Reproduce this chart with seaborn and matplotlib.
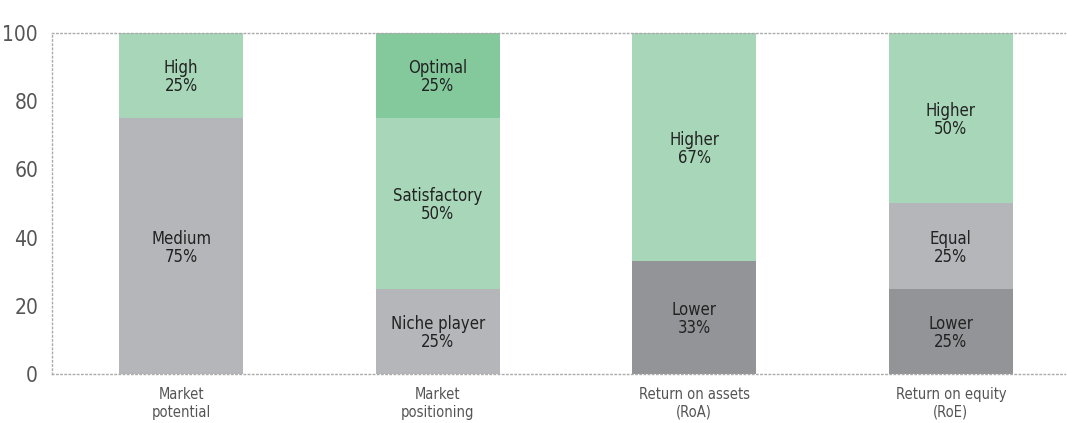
import pandas as pd
import numpy as np
import matplotlib
matplotlib.use('Agg')
import matplotlib.pyplot as plt
import seaborn as sns

# Data (percent shares, stacked bottom to top)
categories = ["Market\npotential", "Market\npositioning", "Return on assets\n(RoA)", "Return on equity\n(RoE)"]
layer1_labels = ["Medium", "Niche player", "Lower", "Lower"]
layer1_values = [75, 25, 33, 25]
layer2_labels = ["High", "Satisfactory", "Higher", "Equal"]
layer2_values = [25, 50, 67, 25]
layer3_labels = ["", "Optimal", "", "Higher"]
layer3_values = [0, 25, 0, 50]

GREY = "#b5b6ba"
DARK_GREY = "#939497"
GREEN = "#a7d7b8"
DARK_GREEN = "#83c99c"

layer1_colors = [GREY, GREY, DARK_GREY, DARK_GREY]
layer2_colors = [GREEN, GREEN, GREEN, GREY]
layer3_colors = [GREEN, DARK_GREEN, GREEN, GREEN]

sns.set_style("white")
plt.rcParams['font.family'] = ['DejaVu Sans']
plt.rcParams['font.stretch'] = 'condensed'

fig = plt.figure(figsize=(10.67, 4.23), dpi=100)
ax = fig.add_axes([52 / 1067, 49 / 423, 1013 / 1067, 341 / 423])

df = pd.DataFrame({
    "cat": categories,
    "l1": layer1_values,
    "l2": layer2_values,
    "l3": layer3_values,
})
df["top1"] = df["l1"]
df["top2"] = df["l1"] + df["l2"]
df["top3"] = df["top2"] + df["l3"]

# draw cumulative tops, tallest first, so each layer sits on the previous one
for col, colors in [("top3", layer3_colors), ("top2", layer2_colors), ("top1", layer1_colors)]:
    sns.barplot(data=df, x="cat", y=col, hue="cat", palette=colors, legend=False,
                width=0.483, linewidth=0, saturation=1, ax=ax)

for vals, bases, labels in [
    (df["l1"], np.zeros(len(df)), layer1_labels),
    (df["l2"], df["top1"], layer2_labels),
    (df["l3"], df["top2"], layer3_labels),
]:
    for i, (v, b, lab) in enumerate(zip(vals, bases, labels)):
        if v <= 0:
            continue
        ax.text(i, b + v / 2 - 0.5, f"{lab}\n{v}%", ha="center", va="center",
                fontsize=12, color="#222222", linespacing=1.0)

ax.set_ylim(0, 100)
ax.set_xlim(-0.503, 3.445)
ax.set_yticks(range(0, 101, 20))
ax.set_xlabel("")
ax.set_ylabel("")
ax.tick_params(axis="y", length=0, labelsize=15, labelcolor="#555555", pad=10)
ax.tick_params(axis="x", length=0, labelsize=10.5, labelcolor="#555555", pad=9)
for lbl in ax.get_xticklabels():
    lbl.set_linespacing(1.25)

for side in ["left", "bottom", "top"]:
    ax.spines[side].set_visible(True)
    ax.spines[side].set_linestyle((0, (1, 2)))
    ax.spines[side].set_color("#aaaaaa")
    ax.spines[side].set_linewidth(1.0)
ax.spines["right"].set_visible(False)

fig.savefig("out.png", dpi=100)
